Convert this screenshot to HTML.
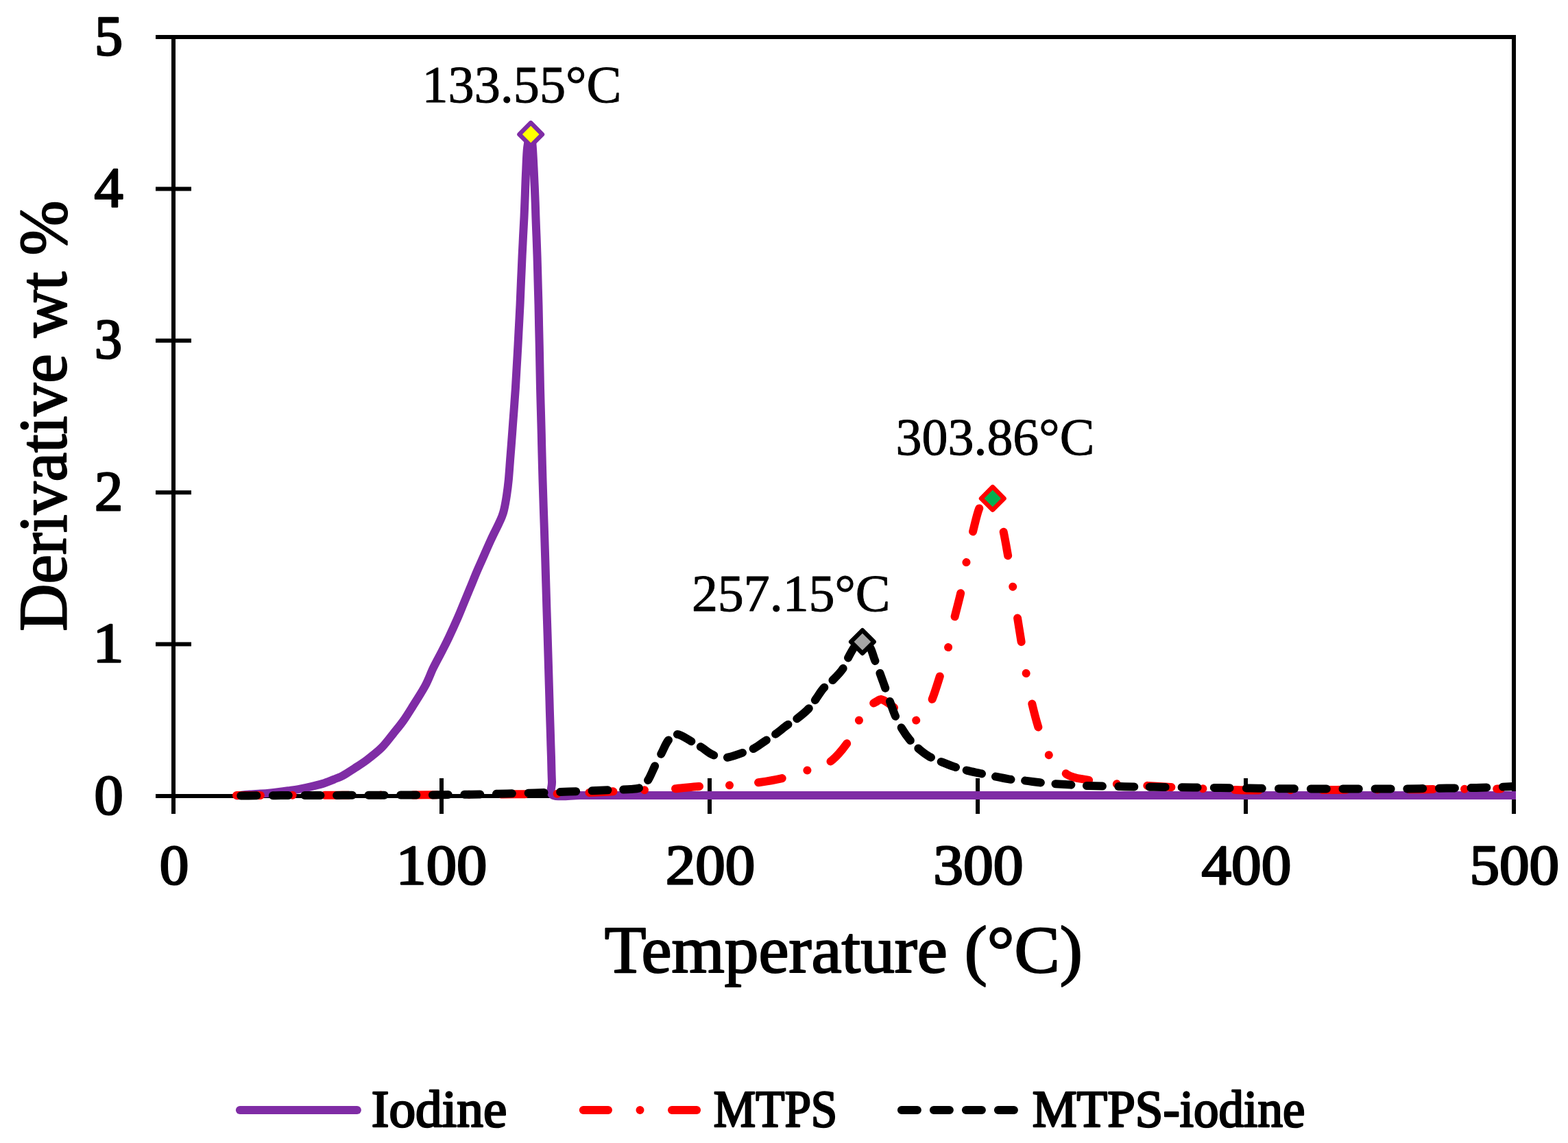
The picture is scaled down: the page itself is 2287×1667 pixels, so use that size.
<!DOCTYPE html>
<html><head><meta charset="utf-8"><title>Derivative wt % vs Temperature</title>
<style>html,body{margin:0;padding:0;background:#fff;} svg{display:block;}</style>
</head><body>
<svg width="2287" height="1667" viewBox="0 0 2287 1667">
<defs><clipPath id="pa"><rect x="250" y="51" width="1961" height="1136"/></clipPath></defs>
<g font-family="'Liberation Serif', serif" fill="#000">
<text transform="translate(137.54,1186.60) scale(1.0297,1)" font-weight="normal" font-size="82.0" stroke="#000" stroke-width="2.6" stroke-linejoin="round">0</text>
<text transform="translate(135.16,965.20) scale(1.1065,1)" font-weight="normal" font-size="82.0" stroke="#000" stroke-width="2.6" stroke-linejoin="round">1</text>
<text transform="translate(137.89,743.80) scale(1.0056,1)" font-weight="normal" font-size="82.0" stroke="#000" stroke-width="2.6" stroke-linejoin="round">2</text>
<text transform="translate(137.97,522.40) scale(0.9778,1)" font-weight="normal" font-size="82.0" stroke="#000" stroke-width="2.6" stroke-linejoin="round">3</text>
<text transform="translate(137.50,301.00) scale(1.0293,1)" font-weight="normal" font-size="82.0" stroke="#000" stroke-width="2.6" stroke-linejoin="round">4</text>
<text transform="translate(137.89,79.60) scale(1.0028,1)" font-weight="normal" font-size="82.0" stroke="#000" stroke-width="2.6" stroke-linejoin="round">5</text>
<text transform="translate(232.82,1289.00) scale(1.0405,1)" font-weight="normal" font-size="82.0" stroke="#000" stroke-width="2.6" stroke-linejoin="round">0</text>
<text transform="translate(577.41,1289.00) scale(1.0809,1)" font-weight="normal" font-size="82.0" stroke="#000" stroke-width="2.6" stroke-linejoin="round">100</text>
<text transform="translate(970.78,1289.00) scale(1.0605,1)" font-weight="normal" font-size="82.0" stroke="#000" stroke-width="2.6" stroke-linejoin="round">200</text>
<text transform="translate(1361.30,1289.00) scale(1.0678,1)" font-weight="normal" font-size="82.0" stroke="#000" stroke-width="2.6" stroke-linejoin="round">300</text>
<text transform="translate(1752.50,1289.00) scale(1.0636,1)" font-weight="normal" font-size="82.0" stroke="#000" stroke-width="2.6" stroke-linejoin="round">400</text>
<text transform="translate(2143.41,1289.00) scale(1.0636,1)" font-weight="normal" font-size="82.0" stroke="#000" stroke-width="2.6" stroke-linejoin="round">500</text>
<text transform="translate(881.78,1417.70) scale(1.0151,1)" font-weight="normal" font-size="97.8" stroke="#000" stroke-width="2.2" stroke-linejoin="round">Temperature (°C)</text>
<text transform="translate(615.44,149.00) scale(1.0097,1)" font-weight="normal" font-size="75.5" stroke="#000" stroke-width="1.0" stroke-linejoin="round">133.55°C</text>
<text transform="translate(1306.48,662.60) scale(1.0060,1)" font-weight="normal" font-size="75.5" stroke="#000" stroke-width="1.0" stroke-linejoin="round">303.86°C</text>
<text transform="translate(1008.89,890.80) scale(1.0050,1)" font-weight="normal" font-size="75.5" stroke="#000" stroke-width="1.0" stroke-linejoin="round">257.15°C</text>
<text transform="translate(541.67,1643.10) scale(1.0284,1)" font-weight="normal" font-size="75.2" stroke="#000" stroke-width="2.6" stroke-linejoin="round">Iodine</text>
<text transform="translate(1040.78,1643.10) scale(0.9187,1)" font-weight="normal" font-size="75.2" stroke="#000" stroke-width="2.6" stroke-linejoin="round">MTPS</text>
<text transform="translate(1505.63,1643.10) scale(0.9715,1)" font-weight="normal" font-size="75.2" stroke="#000" stroke-width="2.6" stroke-linejoin="round">MTPS-iodine</text>
<text transform="translate(95.90,920.75) rotate(-90) scale(0.9733,1)" font-weight="normal" font-size="98.5" stroke="#000" stroke-width="2.2" stroke-linejoin="round">Derivative wt %</text>
</g>
<g><line x1="227" y1="54.0" x2="2211" y2="54.0" stroke="#000" stroke-width="6"/>
<line x1="2208.0" y1="51" x2="2208.0" y2="1187" stroke="#000" stroke-width="6"/>
<line x1="253.0" y1="51" x2="253.0" y2="1187" stroke="#000" stroke-width="6"/>
<line x1="227" y1="1161.0" x2="2211" y2="1161.0" stroke="#000" stroke-width="6"/>
<line x1="227" y1="939.6" x2="279" y2="939.6" stroke="#000" stroke-width="6"/>
<line x1="227" y1="718.2" x2="279" y2="718.2" stroke="#000" stroke-width="6"/>
<line x1="227" y1="496.8" x2="279" y2="496.8" stroke="#000" stroke-width="6"/>
<line x1="227" y1="275.4" x2="279" y2="275.4" stroke="#000" stroke-width="6"/>
<line x1="644.0" y1="1135" x2="644.0" y2="1187" stroke="#000" stroke-width="6"/>
<line x1="1035.0" y1="1135" x2="1035.0" y2="1187" stroke="#000" stroke-width="6"/>
<line x1="1426.0" y1="1135" x2="1426.0" y2="1187" stroke="#000" stroke-width="6"/>
<line x1="1817.0" y1="1135" x2="1817.0" y2="1187" stroke="#000" stroke-width="6"/></g>
<g clip-path="url(#pa)">
<path d="M346.0,1160.4 C349.0,1160.1 358.5,1159.1 364.2,1158.6 C369.9,1158.1 375.3,1157.8 380.0,1157.5 C384.7,1157.2 388.0,1157.0 392.2,1156.6 C396.4,1156.2 400.4,1155.8 405.0,1155.2 C409.6,1154.7 414.6,1154.1 420.0,1153.3 C425.4,1152.5 431.7,1151.7 437.6,1150.6 C443.5,1149.5 449.4,1148.2 455.3,1146.8 C461.2,1145.4 467.0,1144.1 472.9,1142.2 C478.8,1140.3 486.1,1137.1 490.6,1135.3 C495.1,1133.5 495.5,1133.7 500.0,1131.2 C504.5,1128.7 511.6,1124.0 517.5,1120.2 C523.4,1116.4 528.8,1113.1 535.3,1108.2 C541.8,1103.3 550.1,1097.0 556.5,1090.6 C562.9,1084.2 568.5,1076.3 573.8,1069.7 C579.1,1063.1 583.6,1057.8 588.3,1051.2 C593.0,1044.6 596.7,1038.5 602.0,1030.0 C607.3,1021.5 615.3,1009.3 620.3,1000.0 C625.3,990.7 627.9,982.5 631.9,974.2 C635.9,965.9 640.7,957.5 644.5,950.0 C648.3,942.5 651.0,937.4 654.9,929.1 C658.8,920.8 664.5,908.2 668.1,900.0 C671.7,891.8 673.4,887.2 676.4,880.0 C679.4,872.8 682.8,864.5 686.0,856.8 C689.2,849.1 692.3,841.1 695.5,833.6 C698.7,826.1 702.1,818.8 705.3,811.5 C708.5,804.2 712.2,795.7 714.8,790.0 C717.4,784.3 718.7,781.6 720.7,777.5 C722.7,773.4 724.9,769.2 726.7,765.4 C728.5,761.6 730.2,758.1 731.6,754.5 C733.0,750.9 733.9,749.1 735.1,743.6 C736.4,738.1 738.0,729.1 739.1,721.8 C740.2,714.5 740.9,709.2 741.8,700.0 C742.7,690.8 743.5,677.7 744.4,666.5 C745.3,655.3 746.2,644.2 747.0,633.0 C747.8,621.8 748.6,610.7 749.5,599.5 C750.3,588.3 751.2,576.8 751.9,566.0 C752.6,555.2 753.1,545.0 753.7,534.5 C754.3,524.0 755.0,513.1 755.5,503.0 C756.0,492.9 756.5,483.7 757.0,474.0 C757.5,464.3 758.0,455.8 758.5,445.0 C759.0,434.2 759.5,421.0 760.0,409.0 C760.6,397.0 761.1,383.7 761.6,373.0 C762.1,362.3 762.6,354.1 763.0,344.6 C763.5,335.1 764.1,324.6 764.5,316.2 C764.9,307.8 765.1,301.7 765.4,294.4 C765.7,287.1 766.0,279.9 766.2,272.6 C766.5,265.3 766.6,260.5 767.1,250.8 C767.6,241.1 768.0,223.6 769.2,214.5 C770.4,205.4 773.0,196.0 774.3,196.0 C775.6,196.0 776.0,205.4 776.8,214.5 C777.5,223.6 778.3,241.1 778.8,250.8 C779.3,260.5 779.4,265.3 779.8,272.6 C780.1,279.9 780.4,287.1 780.7,294.4 C781.0,301.7 781.1,307.8 781.4,316.2 C781.7,324.6 782.1,335.1 782.5,344.6 C782.8,354.1 783.2,362.3 783.5,373.0 C783.8,383.7 784.2,397.0 784.5,409.0 C784.8,421.0 785.2,434.0 785.5,445.0 C785.8,456.0 785.9,465.2 786.1,475.2 C786.3,485.3 786.5,495.4 786.8,505.5 C787.0,515.6 787.2,525.7 787.4,535.8 C787.6,545.8 787.8,555.4 788.0,566.0 C788.2,576.6 788.6,588.3 788.9,599.5 C789.2,610.7 789.5,621.8 789.8,633.0 C790.0,644.2 790.3,655.3 790.6,666.5 C790.9,677.7 791.1,688.1 791.5,700.0 C791.9,711.9 792.3,725.3 792.7,738.0 C793.1,750.7 793.6,763.3 794.0,776.0 C794.4,788.7 794.8,801.5 795.2,814.0 C795.6,826.5 795.9,838.8 796.3,851.2 C796.7,863.6 797.1,876.0 797.4,888.4 C797.8,900.8 798.2,913.2 798.6,925.6 C798.9,938.0 799.3,950.4 799.7,962.8 C800.1,975.2 800.4,988.0 800.8,1000.0 C801.2,1012.0 801.5,1023.3 801.8,1035.0 C802.2,1046.7 802.5,1058.3 802.9,1070.0 C803.2,1081.7 803.6,1093.3 804.0,1105.0 C804.3,1116.7 804.5,1130.8 805.0,1140.0 C805.5,1149.2 800.1,1156.7 807.0,1160.0 C813.9,1163.3 833.2,1160.0 846.2,1160.0 C859.3,1160.0 872.4,1160.0 885.5,1160.0 C898.6,1160.0 911.7,1160.0 924.8,1160.0 C937.8,1160.0 950.9,1160.0 964.0,1160.0 C977.1,1160.0 990.2,1160.0 1003.2,1160.0 C1016.3,1160.0 1029.4,1160.0 1042.5,1160.0 C1055.6,1160.0 1068.7,1160.0 1081.8,1160.0 C1094.8,1160.0 1107.9,1160.0 1121.0,1160.0 C1134.1,1160.0 1147.2,1160.0 1160.2,1160.0 C1173.3,1160.0 1186.4,1160.0 1199.5,1160.0 C1212.6,1160.0 1225.7,1160.0 1238.8,1160.0 C1251.8,1160.0 1264.9,1160.0 1278.0,1160.0 C1291.1,1160.0 1304.2,1160.0 1317.2,1160.0 C1330.3,1160.0 1343.4,1160.0 1356.5,1160.0 C1369.6,1160.0 1382.7,1160.0 1395.8,1160.0 C1408.8,1160.0 1421.9,1160.0 1435.0,1160.0 C1448.1,1160.0 1461.2,1160.0 1474.2,1160.0 C1487.3,1160.0 1500.4,1160.0 1513.5,1160.0 C1526.6,1160.0 1539.7,1160.0 1552.8,1160.0 C1565.8,1160.0 1578.9,1160.0 1592.0,1160.0 C1605.1,1160.0 1618.2,1160.0 1631.2,1160.0 C1644.3,1160.0 1657.4,1160.0 1670.5,1160.0 C1683.6,1160.0 1696.7,1160.0 1709.8,1160.0 C1722.8,1160.0 1735.9,1160.0 1749.0,1160.0 C1762.1,1160.0 1775.2,1160.0 1788.2,1160.0 C1801.3,1160.0 1814.4,1160.0 1827.5,1160.0 C1840.6,1160.0 1853.7,1160.0 1866.8,1160.0 C1879.8,1160.0 1892.9,1160.0 1906.0,1160.0 C1919.1,1160.0 1932.2,1160.0 1945.2,1160.0 C1958.3,1160.0 1971.4,1160.0 1984.5,1160.0 C1997.6,1160.0 2010.7,1160.0 2023.8,1160.0 C2036.8,1160.0 2049.9,1160.0 2063.0,1160.0 C2076.1,1160.0 2089.2,1160.0 2102.2,1160.0 C2115.3,1160.0 2128.4,1160.0 2141.5,1160.0 C2154.6,1160.0 2167.7,1160.0 2180.8,1160.0 C2193.8,1160.0 2213.5,1160.0 2220.0,1160.0" fill="none" stroke="#7F2CA5" stroke-width="12" stroke-linejoin="round" stroke-linecap="round"/>
<path d="M345.0,1160.0 C351.1,1160.0 369.3,1160.0 381.4,1159.9 C393.6,1159.9 405.7,1159.9 417.9,1159.9 C430.0,1159.8 442.1,1159.8 454.3,1159.8 C466.4,1159.8 478.6,1159.7 490.7,1159.7 C502.9,1159.7 515.0,1159.7 527.1,1159.6 C539.3,1159.6 551.4,1159.6 563.6,1159.6 C575.7,1159.5 588.4,1159.6 600.0,1159.5 C611.6,1159.4 622.2,1159.3 633.3,1159.2 C644.4,1159.2 655.6,1159.1 666.7,1159.0 C677.8,1158.9 688.9,1158.8 700.0,1158.8 C711.1,1158.7 722.2,1158.6 733.3,1158.5 C744.4,1158.4 755.6,1158.3 766.7,1158.2 C777.8,1158.2 788.6,1158.2 800.0,1158.0 C811.4,1157.8 823.3,1157.2 835.0,1156.8 C846.7,1156.3 858.3,1156.0 870.0,1155.5 C881.7,1155.0 893.3,1154.4 905.0,1153.8 C916.7,1153.3 930.3,1152.6 940.0,1152.2 C949.7,1151.8 955.3,1151.5 963.0,1151.2 C970.7,1150.9 976.7,1150.9 986.0,1150.2 C995.3,1149.5 1009.8,1147.7 1019.0,1147.0 C1028.2,1146.3 1034.0,1146.4 1041.5,1146.2 C1049.0,1145.9 1056.6,1145.8 1064.0,1145.3 C1071.4,1144.8 1078.7,1143.9 1086.0,1143.2 C1093.3,1142.4 1099.2,1142.3 1108.0,1141.0 C1116.8,1139.7 1130.2,1137.5 1138.5,1135.6 C1146.8,1133.7 1151.5,1131.6 1158.0,1129.5 C1164.4,1127.5 1170.4,1125.9 1177.4,1123.5 C1184.4,1121.1 1193.9,1117.5 1200.0,1115.0 C1206.1,1112.5 1208.6,1113.1 1214.2,1108.3 C1219.8,1103.5 1228.7,1093.3 1233.8,1086.3 C1238.9,1079.2 1241.8,1072.0 1245.0,1066.0 C1248.2,1060.0 1249.6,1056.3 1252.9,1050.6 C1256.2,1044.9 1260.7,1036.6 1265.0,1032.0 C1269.3,1027.4 1275.4,1025.0 1278.7,1023.0 C1282.0,1021.0 1282.3,1019.7 1285.0,1020.0 C1287.7,1020.3 1291.5,1022.7 1295.0,1025.0 C1298.5,1027.3 1302.0,1030.6 1306.2,1033.6 C1310.4,1036.6 1315.0,1040.2 1320.0,1043.0 C1325.0,1045.8 1331.3,1051.1 1336.0,1050.6 C1340.7,1050.1 1344.1,1045.0 1348.0,1040.0 C1351.9,1035.0 1355.4,1029.9 1359.2,1020.9 C1363.0,1011.9 1368.0,995.1 1371.0,985.8 C1374.0,976.5 1375.0,972.0 1377.0,965.0 C1379.0,958.1 1381.2,951.5 1383.0,944.3 C1384.8,937.1 1386.2,929.2 1387.8,921.6 C1389.5,914.0 1390.5,908.1 1392.7,898.9 C1394.9,889.7 1398.8,875.5 1400.9,866.2 C1403.0,856.9 1403.7,850.9 1405.2,843.3 C1406.6,835.7 1407.9,828.0 1409.4,820.4 C1410.9,812.8 1412.6,805.4 1414.2,797.9 C1415.8,790.4 1416.7,784.6 1419.0,775.4 C1421.3,766.2 1424.8,750.6 1427.8,742.7 C1430.8,734.8 1433.7,730.6 1437.0,728.0 C1440.3,725.4 1444.4,724.4 1447.6,727.2 C1450.8,730.0 1453.3,737.0 1456.0,745.0 C1458.7,753.0 1461.3,764.7 1463.6,775.4 C1465.9,786.1 1468.2,799.5 1469.9,809.0 C1471.6,818.5 1472.3,824.4 1473.6,832.1 C1474.8,839.9 1476.0,847.6 1477.2,855.3 C1478.4,863.0 1479.5,870.7 1480.7,878.5 C1481.8,886.2 1482.6,892.1 1484.1,901.6 C1485.6,911.1 1488.0,925.7 1489.5,935.2 C1491.0,944.7 1491.9,950.7 1493.0,958.4 C1494.2,966.1 1495.3,974.0 1496.6,981.6 C1497.9,989.2 1499.5,996.7 1501.0,1004.2 C1502.5,1011.7 1503.2,1017.6 1505.4,1026.8 C1507.6,1036.0 1511.3,1050.3 1514.0,1059.2 C1516.7,1068.1 1519.2,1073.1 1521.8,1080.1 C1524.4,1087.0 1523.8,1092.7 1529.6,1100.9 C1535.3,1109.1 1547.0,1123.3 1556.3,1129.4 C1565.6,1135.5 1577.0,1135.5 1585.4,1137.3 C1593.8,1139.1 1599.7,1139.3 1606.9,1140.3 C1614.1,1141.3 1621.0,1142.6 1628.4,1143.3 C1635.8,1144.0 1643.6,1144.2 1651.2,1144.6 C1658.8,1145.0 1664.7,1145.4 1674.0,1145.9 C1683.3,1146.5 1697.3,1147.4 1707.2,1147.9 C1717.1,1148.4 1724.8,1148.7 1733.6,1149.2 C1742.4,1149.6 1750.6,1150.0 1760.0,1150.4 C1769.4,1150.8 1780.0,1151.1 1790.0,1151.5 C1800.0,1151.8 1810.6,1152.3 1820.0,1152.5 C1829.4,1152.7 1837.8,1152.5 1846.7,1152.4 C1855.6,1152.4 1864.4,1152.4 1873.3,1152.4 C1882.2,1152.3 1890.0,1152.3 1900.0,1152.3 C1910.0,1152.2 1922.2,1152.1 1933.3,1152.1 C1944.4,1152.0 1955.6,1151.9 1966.7,1151.8 C1977.8,1151.8 1988.9,1151.7 2000.0,1151.6 C2011.1,1151.5 2022.2,1151.5 2033.3,1151.4 C2044.4,1151.3 2055.6,1151.3 2066.7,1151.2 C2077.8,1151.1 2089.5,1151.1 2100.0,1151.0 C2110.5,1150.9 2119.8,1150.9 2129.7,1150.8 C2139.6,1150.8 2149.4,1150.7 2159.3,1150.7 C2169.2,1150.6 2184.1,1150.5 2189.0,1150.5" fill="none" stroke="#FF0000" stroke-width="12" stroke-linejoin="round" stroke-linecap="round" stroke-dasharray="34.81 46.84 0.01 46.84 35.00 46.84 0.01 46.84 35.00 46.84 0.01 46.84 35.00 46.84 0.01 46.84 35.00 45.57 0.01 45.15 35.00 44.08 0.01 42.31 35.00 38.62 0.01 36.73 35.00 38.29 0.01 33.44 35.00 37.51 0.01 39.67 35.00 44.21 0.01 45.78 35.00 45.94 0.01 45.85 35.00 27.39 0.01 52.10 35.00 45.97 0.01 46.32 35.00 46.46 0.01 45.36 35.00 43.89 0.01 36.67 35.00 41.38 0.01 44.58 35.00 46.32 0.01 46.32 35.00 46.32 0.01 46.32 35.00 45.84 0.01 45.84 35.00 45.84 0.01 47.09 6.30 20000.00" stroke-dashoffset="-0.00"/>
<path d="M345.0,1160.5 C349.7,1160.5 363.9,1160.4 373.3,1160.3 C382.8,1160.3 392.2,1160.2 401.7,1160.2 C411.1,1160.1 420.3,1160.0 430.0,1160.0 C439.7,1160.0 450.0,1160.0 460.0,1159.9 C470.0,1159.9 480.0,1159.9 490.0,1159.9 C500.0,1159.8 509.4,1159.8 520.0,1159.8 C530.6,1159.8 542.2,1159.7 553.3,1159.7 C564.4,1159.7 575.6,1159.6 586.7,1159.6 C597.8,1159.6 610.0,1159.6 620.0,1159.5 C630.0,1159.4 637.8,1159.3 646.7,1159.2 C655.6,1159.1 664.4,1158.9 673.3,1158.8 C682.2,1158.7 691.1,1158.7 700.0,1158.5 C708.9,1158.3 717.8,1158.0 726.7,1157.8 C735.6,1157.6 744.4,1157.3 753.3,1157.1 C762.2,1156.9 771.4,1156.7 780.0,1156.4 C788.6,1156.1 796.7,1155.8 805.0,1155.5 C813.3,1155.2 822.1,1154.9 830.0,1154.6 C837.9,1154.3 845.0,1154.0 852.5,1153.7 C860.0,1153.4 867.5,1153.1 875.0,1152.8 C882.5,1152.5 890.0,1152.2 897.5,1151.9 C905.0,1151.6 913.8,1151.6 920.0,1151.0 C926.2,1150.4 930.8,1150.4 935.0,1148.2 C939.2,1146.0 941.9,1142.8 945.3,1137.6 C948.7,1132.4 952.0,1123.5 955.2,1117.1 C958.4,1110.7 961.2,1105.5 964.5,1099.2 C967.8,1092.9 971.1,1084.1 975.0,1079.4 C978.9,1074.7 982.6,1070.8 988.0,1071.0 C993.4,1071.2 1001.6,1077.5 1007.5,1080.7 C1013.4,1083.9 1018.0,1086.7 1023.3,1090.0 C1028.6,1093.3 1033.4,1098.1 1039.2,1100.6 C1045.0,1103.1 1051.0,1105.3 1058.0,1105.0 C1065.0,1104.7 1073.9,1100.9 1080.9,1098.6 C1087.9,1096.3 1094.2,1094.3 1100.1,1091.3 C1105.9,1088.3 1110.7,1084.2 1116.0,1080.7 C1121.3,1077.2 1126.6,1073.9 1131.9,1070.1 C1137.2,1066.3 1142.9,1061.4 1148.0,1057.7 C1153.1,1054.0 1157.5,1051.9 1162.7,1047.9 C1167.9,1044.0 1174.5,1038.6 1179.0,1034.0 C1183.5,1029.4 1185.9,1025.1 1189.6,1020.1 C1193.3,1015.1 1196.9,1008.6 1201.1,1003.8 C1205.3,999.0 1210.4,996.1 1215.0,991.5 C1219.6,986.9 1225.1,981.6 1228.9,976.0 C1232.7,970.4 1234.7,963.7 1237.8,958.0 C1240.9,952.3 1244.2,945.4 1247.6,941.7 C1250.9,938.0 1254.4,935.6 1257.9,936.0 C1261.5,936.4 1266.0,939.9 1268.9,944.1 C1271.8,948.3 1273.1,955.3 1275.4,961.3 C1277.7,967.3 1280.2,973.2 1282.8,980.1 C1285.4,987.0 1288.5,996.0 1291.0,1002.9 C1293.5,1009.8 1295.0,1014.9 1297.5,1021.7 C1300.0,1028.5 1302.7,1037.0 1305.7,1043.8 C1308.7,1050.6 1312.0,1056.8 1315.5,1062.6 C1319.0,1068.4 1322.7,1073.9 1326.9,1078.9 C1331.1,1083.9 1336.0,1088.7 1340.8,1092.8 C1345.6,1096.9 1349.9,1100.3 1355.5,1103.4 C1361.1,1106.5 1368.3,1109.1 1374.3,1111.6 C1380.3,1114.0 1385.3,1116.0 1391.4,1118.1 C1397.5,1120.1 1404.6,1122.2 1411.0,1123.9 C1417.4,1125.6 1423.1,1126.5 1430.0,1128.0 C1436.9,1129.5 1445.2,1131.3 1452.4,1132.7 C1459.6,1134.1 1465.8,1135.6 1473.0,1136.6 C1480.2,1137.6 1488.1,1137.8 1495.4,1138.6 C1502.7,1139.4 1509.3,1140.5 1516.6,1141.3 C1523.9,1142.1 1531.6,1142.8 1539.1,1143.3 C1546.6,1143.8 1554.1,1144.2 1561.6,1144.6 C1569.1,1145.0 1576.3,1145.6 1584.0,1145.9 C1591.7,1146.2 1600.1,1146.4 1607.9,1146.6 C1615.7,1146.8 1623.3,1146.9 1631.1,1147.0 C1638.8,1147.2 1645.6,1147.4 1654.2,1147.5 C1662.8,1147.6 1673.3,1147.7 1682.8,1147.8 C1692.3,1147.9 1701.9,1148.1 1711.4,1148.2 C1720.9,1148.3 1730.2,1148.4 1740.0,1148.5 C1749.8,1148.6 1760.0,1148.8 1770.0,1148.9 C1780.0,1149.0 1789.2,1149.2 1800.0,1149.3 C1810.8,1149.4 1823.3,1149.6 1835.0,1149.8 C1846.7,1149.9 1859.7,1150.1 1870.0,1150.2 C1880.3,1150.3 1887.8,1150.3 1896.7,1150.3 C1905.6,1150.4 1914.4,1150.4 1923.3,1150.5 C1932.2,1150.5 1940.0,1150.6 1950.0,1150.6 C1960.0,1150.6 1972.2,1150.6 1983.3,1150.5 C1994.4,1150.5 2005.6,1150.5 2016.7,1150.5 C2027.8,1150.4 2039.4,1150.5 2050.0,1150.4 C2060.6,1150.3 2070.0,1150.1 2080.0,1150.0 C2090.0,1149.9 2100.8,1149.7 2110.0,1149.6 C2119.2,1149.5 2126.7,1149.3 2135.0,1149.2 C2143.3,1149.1 2150.8,1149.1 2160.0,1148.8 C2169.2,1148.5 2180.0,1148.0 2190.0,1147.7 C2200.0,1147.3 2215.0,1146.7 2220.0,1146.5" fill="none" stroke="#000000" stroke-width="12" stroke-linejoin="round" stroke-linecap="round" stroke-dasharray="23.00 23.57 23.00 23.57 23.00 23.57 23.00 23.57 23.00 23.57 23.00 23.57 23.00 23.57 23.00 23.57 23.00 23.57 23.00 23.57 23.00 23.57 23.00 22.66 23.00 17.72 23.00 19.78 23.00 15.88 23.00 15.69 23.00 20.29 23.00 16.81 23.00 15.87 23.00 15.49 23.00 15.14 23.00 15.97 23.00 17.06 23.00 22.14 23.00 19.30 23.00 20.67 23.00 18.66 23.00 16.23 23.00 15.80 23.00 16.15 23.00 20.28 23.00 20.63 23.00 21.56 23.00 22.61 23.00 23.39 23.00 22.29 23.00 24.10 23.00 24.10 23.00 24.06 23.00 24.06 23.00 23.91 23.00 23.91 23.00 23.78 23.00 23.78 23.00 23.60 23.00 23.60 23.00 23.60 23.00 20000.00" stroke-dashoffset="-6.34"/>
</g>
<path d="M774.2,179.1 L791.0,195.9 L774.2,212.7 L757.4,195.9 Z" fill="#FFFF00" stroke="#7F2CA5" stroke-width="6.4" stroke-linejoin="round"/>
<path d="M1447.8,710.1 L1464.6,726.9 L1447.8,743.7 L1431.0,726.9 Z" fill="#00B050" stroke="#FF0000" stroke-width="6.4" stroke-linejoin="round"/>
<path d="M1257.9,919.2 L1274.7,936.0 L1257.9,952.8 L1241.1,936.0 Z" fill="#A5A5A5" stroke="#000000" stroke-width="6.4" stroke-linejoin="round"/>
<line x1="349.9" y1="1619" x2="520.9" y2="1619" stroke="#7F2CA5" stroke-width="12" stroke-linecap="round"/>
<line x1="850.8" y1="1619" x2="1016.1" y2="1619" stroke="#FF0000" stroke-width="12" stroke-linecap="round" stroke-dasharray="36.2 46.5 0 46.5"/>
<line x1="1314.9" y1="1619" x2="1479.7" y2="1619" stroke="#000000" stroke-width="12" stroke-linecap="round" stroke-dasharray="23 24"/>
</svg>
</body></html>
